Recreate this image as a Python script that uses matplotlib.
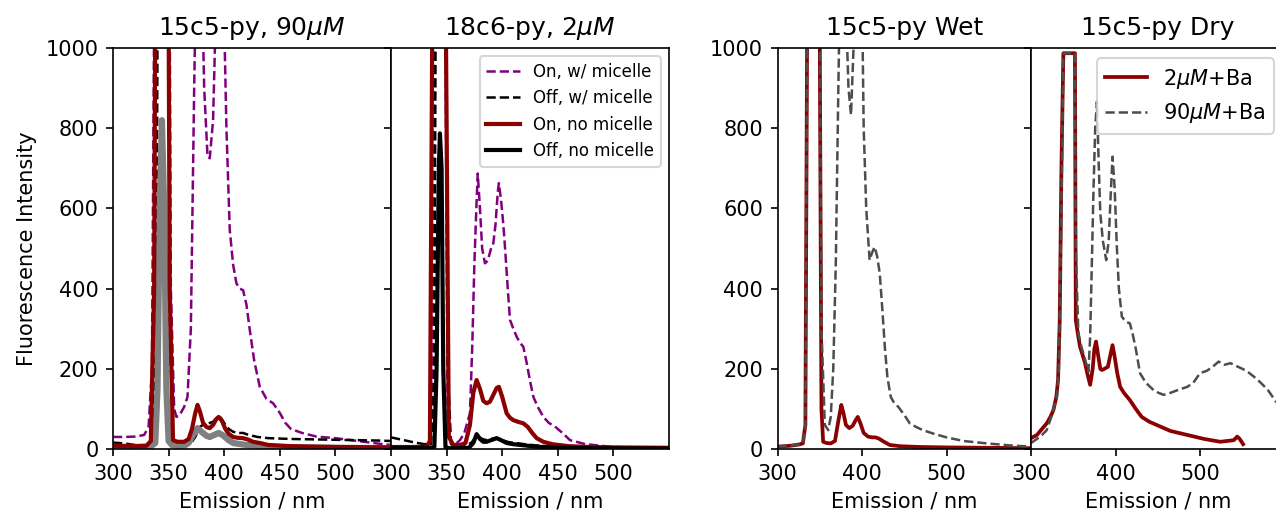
import matplotlib
matplotlib.use('Agg')
import matplotlib.pyplot as plt

# ---- 15c5-py, 90uM (panel 1) ----
p1_on_mic_x = [300, 310, 320, 328, 332, 335, 338, 341, 345, 349, 352, 355, 357, 360, 364, 367, 370, 373, 376, 379,
               382, 385, 387, 390, 393, 396, 399, 402, 405, 408, 411, 414, 417, 420, 423, 427, 432, 438, 444, 450,
               455, 460, 470, 483, 500, 520, 540, 550]
p1_on_mic_y = [30, 30, 31, 35, 55, 200, 1500, 3000, 3500, 2500, 400, 100, 80, 85, 105, 130, 300, 900, 1400, 1300,
               900, 730, 725, 820, 1150, 1400, 1200, 800, 546, 460, 413, 400, 396, 360, 297, 220, 155, 125, 114, 90,
               65, 50, 40, 31, 27, 20, 13, 10]

p1_off_mic_x = [300, 310, 320, 330, 336, 339, 342, 345, 348, 351, 354, 358, 364, 370, 374, 378, 382, 386, 390, 394,
                397, 400, 404, 408, 412, 417, 422, 430, 440, 460, 480, 500, 520, 540, 550]
p1_off_mic_y = [16, 14, 10, 9, 15, 300, 2500, 3500, 2500, 300, 20, 10, 10, 14, 30, 55, 62, 64, 68, 80,
                78, 65, 50, 43, 40, 40, 35, 30, 27, 25, 24, 23, 22, 21, 20]

p1_on_x = [300, 320, 330, 334, 337, 340, 344, 348, 351, 354, 358, 364, 368, 371, 374, 376, 378, 381, 384, 387,
           390, 393, 395, 398, 401, 404, 408, 412, 417, 421, 426, 432, 440, 460, 500, 550]
p1_on_y = [8, 7, 8, 20, 400, 2500, 4000, 2500, 400, 22, 18, 18, 25, 50, 90, 110, 95, 65, 55, 52,
           60, 75, 80, 70, 50, 38, 30, 28, 27, 24, 18, 15, 10, 7, 5, 4]

p1_off_x = [300, 320, 334, 338, 340, 342, 344, 346, 348, 350, 353, 358, 364, 368, 372, 376, 380, 384, 387, 391,
            395, 399, 404, 408, 415, 420, 432, 450, 500, 550]
p1_off_y = [5, 5, 6, 15, 150, 600, 820, 600, 150, 20, 10, 8, 8, 15, 35, 52, 42, 33, 30, 35,
            40, 34, 22, 15, 12, 10, 8, 5, 3, 2]

# ---- 18c6-py, 2uM (panel 2) ----
p2_on_mic_x = [300, 320, 334, 337, 340, 344, 348, 351, 354, 358, 362, 366, 369, 371, 373, 375, 377, 378, 380, 382,
               384.5, 387, 390, 392, 394, 396, 397, 399, 401, 402.5, 405, 407, 410, 413, 416, 419, 422, 425, 428, 432,
               437, 442, 447.5, 455, 461, 475, 500, 525, 550]
p2_on_mic_y = [5, 5, 6, 50, 1500, 3500, 1500, 60, 15, 12, 22, 40, 70, 89, 250, 463, 620, 687, 600, 500,
               463, 470, 500, 513, 560, 640, 663, 620, 560, 504, 400, 322, 300, 280, 265, 255, 215, 170, 130, 105,
               80, 65, 56, 38, 22, 12, 5, 3, 2]

p2_off_mic_x = [300, 310, 320, 330, 336, 339, 342, 345, 348, 351, 354, 360, 366, 372, 376, 378, 382, 386, 390, 395,
                400, 406, 412, 420, 430, 445, 470, 500, 550]
p2_off_mic_y = [29, 23, 17, 12, 12, 200, 2500, 3500, 2500, 200, 12, 8, 8, 15, 28, 32, 25, 22, 25, 28,
                22, 17, 15, 12, 9, 6, 4, 3, 2]

p2_on_x = [300, 320, 332, 335, 338, 342, 346, 349, 352, 356, 362, 367, 371, 374, 377, 380, 383, 386, 389, 392,
           395, 397, 400, 404, 407, 410, 414, 419, 423, 427, 431, 437, 445, 460, 480, 500, 550]
p2_on_y = [5, 5, 6, 20, 1500, 4000, 2500, 1200, 30, 10, 10, 15, 60, 140, 172, 150, 120, 114, 118, 135,
           152, 155, 130, 89, 78, 72, 68, 64, 55, 40, 27, 18, 12, 7, 5, 4, 3]

p2_off_x = [300, 320, 336, 339, 341, 343, 344, 345.5, 347, 349, 352, 360, 370, 374, 377, 380, 383, 386, 390, 395,
            399, 404, 410, 420, 430, 450, 480, 550]
p2_off_y = [3, 3, 3, 5, 200, 700, 787, 700, 200, 5, 2, 2, 3, 15, 37, 25, 18, 18, 22, 27,
            22, 15, 12, 9, 6, 3, 2, 1]

# ---- 15c5-py Wet (panel 3) ----
wet_2uM_x = [300, 315, 325, 330, 333, 336, 340, 345, 349, 352, 354, 358, 363, 368, 372, 375.5, 378, 381, 385, 389,
             392, 395, 398, 402, 407, 412, 416, 420, 426, 433, 445, 469, 500, 550, 600]
wet_2uM_y = [6, 8, 11, 14, 60, 1500, 4000, 4000, 1500, 100, 18, 15, 14, 20, 70, 110, 90, 60, 52, 58,
             70, 80, 65, 40, 31, 29, 29, 26, 18, 10, 7, 5, 4, 3, 2]

wet_90uM_x = [300, 315, 325, 330, 333, 336, 340, 345, 349, 352, 356, 360, 363, 366, 369, 372, 375, 378, 381, 384,
              387, 390, 393, 396, 399, 402, 405, 409, 412, 415, 418, 421, 424, 427, 430, 434, 438, 443, 450, 456.5,
              464, 472, 485, 500, 520, 547.5, 575, 599]
wet_90uM_y = [6, 8, 11, 14, 60, 1500, 4000, 4000, 1500, 300, 60, 47, 80, 200, 463, 900, 1300, 1400, 1100, 900,
              833, 1000, 1500, 1600, 1300, 800, 600, 471, 490, 504, 480, 438, 350, 255, 180, 130, 115, 105, 85, 64,
              55, 47, 38, 29, 20, 14, 9, 6]

# ---- 15c5-py Dry (panel 4) ----
dry_2uM_x = [300, 307, 313, 318.6, 323, 326.5, 330, 332, 334, 336, 338.3, 345, 352, 353, 356, 358, 361, 364, 367, 370,
             373, 375, 377, 379, 382, 384, 387, 391, 394, 396.5, 399, 402, 405.5, 410, 417, 424, 431, 440, 453, 465,
             485, 505, 524, 532, 540, 544, 547, 551]
dry_2uM_y = [27, 35, 50, 64, 80, 97, 130, 172, 322, 700, 987, 987, 987, 322, 280, 255, 235, 214, 185, 160,
             200, 250, 268, 240, 200, 197, 200, 205, 235, 259, 230, 190, 155, 140, 122, 100, 80, 68, 56, 45,
             35, 25, 18, 20, 22, 31, 25, 12]

dry_90uM_x = [300, 307, 313, 318.6, 324, 330.6, 333, 336, 338.3, 345, 352, 353, 356, 359, 362, 365, 368, 370, 372, 374,
              376, 378, 380, 382, 385, 389, 392, 394, 396.5, 399, 401.6, 404, 407.5, 412, 417, 420, 424, 429, 436, 445,
              451, 457, 465, 475, 485, 492, 500, 508, 515, 522, 529, 536, 545, 555, 564, 572, 580, 590, 600]
dry_90uM_y = [15, 25, 35, 47, 80, 130, 200, 600, 987, 987, 987, 500, 290, 260, 238, 215, 193, 280, 463, 650,
              800, 866, 720, 588, 520, 471, 520, 620, 729, 650, 504, 400, 330, 318, 313, 290, 250, 189, 165, 147,
              140, 135, 140, 148, 155, 165, 189, 195, 205, 218, 210, 214, 205, 195, 180, 165, 148, 118, 100]

titles = ['15c5-py, 90$\\mu M$', '18c6-py, 2$\\mu M$', '15c5-py Wet', '15c5-py Dry']

fig = plt.figure(figsize=(1276 / 150, 514 / 150), dpi=150)
# panel positions (the last one runs a bit past the right edge, as in the original crop)
ax1 = fig.add_axes([113 / 1276, 65 / 514, 278 / 1276, 401 / 514])
ax2 = fig.add_axes([391 / 1276, 65 / 514, 278 / 1276, 401 / 514], sharey=ax1)
ax3 = fig.add_axes([777.5 / 1276, 65 / 514, 253.5 / 1276, 401 / 514])
ax4 = fig.add_axes([1031 / 1276, 65 / 514, 253.5 / 1276, 401 / 514], sharey=ax3)

# panel 1
ax1.plot(p1_on_mic_x, p1_on_mic_y, '--', color='purple', lw=1.2)
ax1.plot(p1_off_mic_x, p1_off_mic_y, '--', color='black', lw=1.2)
ax1.plot(p1_off_x, p1_off_y, '-', color='gray', lw=3)
ax1.plot(p1_on_x, p1_on_y, '-', color='darkred', lw=2)

# panel 2
ax2.plot(p2_on_mic_x, p2_on_mic_y, '--', color='purple', lw=1.2, label='On, w/ micelle')
ax2.plot(p2_off_mic_x, p2_off_mic_y, '--', color='black', lw=1.2, label='Off, w/ micelle')
ax2.plot(p2_on_x, p2_on_y, '-', color='darkred', lw=2, label='On, no micelle')
ax2.plot(p2_off_x, p2_off_y, '-', color='black', lw=2, label='Off, no micelle')
ax2.legend(loc='upper right', fontsize=8)

# panel 3
ax3.plot(wet_2uM_x, wet_2uM_y, '-', color='darkred', lw=1.8)
ax3.plot(wet_90uM_x, wet_90uM_y, '--', color='0.3', lw=1.2)

# panel 4
ax4.plot(dry_2uM_x, dry_2uM_y, '-', color='darkred', lw=1.8, label='2$\\mu M$+Ba')
ax4.plot(dry_90uM_x, dry_90uM_y, '--', color='0.3', lw=1.2, label='90$\\mu M$+Ba')
ax4.legend(loc='upper right')

for ax, t in zip([ax1, ax2, ax3, ax4], titles):
    ax.set_title(t, fontsize=12)
    ax.set_ylim(0, 1000)
    ax.set_yticks([0, 200, 400, 600, 800, 1000])
    ax.set_xlabel('Emission / nm')

ax1.set_xlim(300, 550)
ax2.set_xlim(300, 550)
ax1.set_xticks([300, 350, 400, 450, 500])
ax2.set_xticks([300, 350, 400, 450, 500])
ax3.set_xlim(300, 600)
ax4.set_xlim(300, 600)
ax3.set_xticks([300, 400, 500])
ax4.set_xticks([300, 400, 500])

ax2.tick_params(labelleft=False)
ax4.tick_params(labelleft=False)
ax1.set_ylabel('Fluorescence Intensity')

fig.savefig('out.png', dpi=150)
